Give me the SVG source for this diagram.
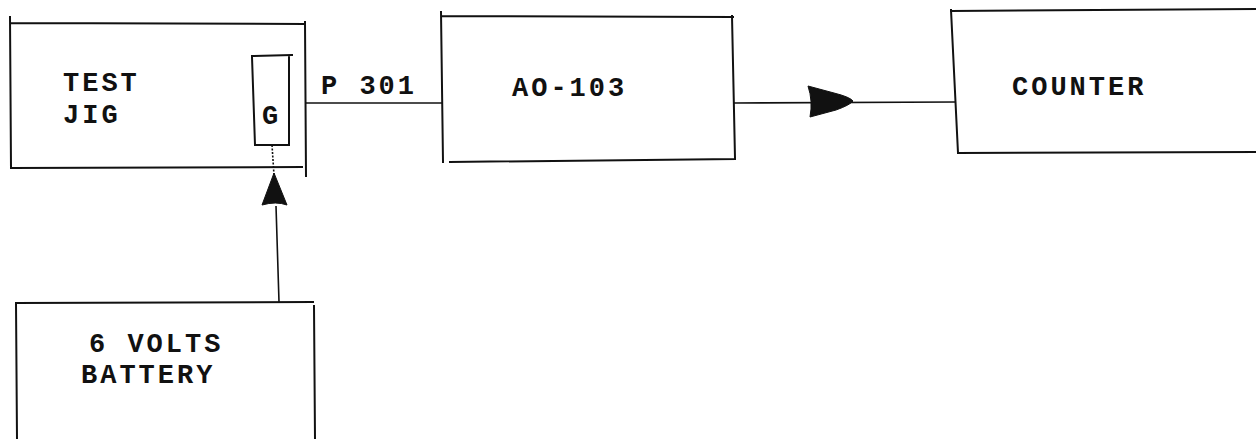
<svg xmlns="http://www.w3.org/2000/svg" width="1256" height="439" viewBox="0 0 1256 439">
  <style>
    .edge { fill: none; stroke: #111; stroke-width: 2; stroke-linecap: square; }
    .wire { fill: none; stroke: #111; stroke-width: 1.6; }
    .lbl { font-family: "Courier New", "Liberation Mono", monospace; font-weight: bold; font-size: 27px; letter-spacing: 3px; fill: #111; }
    .head { fill: #111; stroke: #111; stroke-width: 1; stroke-linejoin: round; }
  </style>
  <rect width="1256" height="439" fill="#fff"/>

  <g id="test-jig">
    <path class="edge" d="M10 17 L11 168 M11 23 L305 24 M305 22 L306 176 M11 168 L302 167"/>
    <text class="lbl" x="63" y="91">TEST</text>
    <text class="lbl" x="63" y="123">JIG</text>
  </g>

  <g id="g-socket">
    <path class="edge" d="M252 57 L255 145 M252 56 L292 55 M289 56 L289 145 M255 145 L289 145"/>
    <text class="lbl" x="262" y="124" letter-spacing="0">G</text>
  </g>

  <g id="ao-103">
    <path class="edge" d="M441 12 L443 162 M442 16 L733 17 M732 16 L735 158 M450 162 L735 159"/>
    <text class="lbl" x="512" y="96">AO-103</text>
  </g>

  <g id="counter">
    <path class="edge" d="M951 10 L958 153 M951 11 L1256 9 M958 153 L1256 152"/>
    <text class="lbl" x="1012" y="95">COUNTER</text>
  </g>

  <g id="battery">
    <path class="edge" d="M16 303 L17 439 M16 303 L313 302 M314 306 L315 439"/>
    <text class="lbl" x="89" y="352">6 VOLTS</text>
    <text class="lbl" x="81" y="383">BATTERY</text>
  </g>

  <g id="connectors">
    <line class="wire" x1="306" y1="103" x2="442" y2="103"/>
    <text class="lbl" x="321" y="94">P 301</text>
    <line class="wire" x1="734" y1="103" x2="955" y2="102"/>
    <path class="head" d="M808 86 L834 93 Q850 97 853 101 Q850 105 836 110 L810 117 Q813 101 808 86 Z"/>
    <line class="wire" x1="272" y1="145" x2="274" y2="175" stroke-dasharray="2 1.5"/>
    <line class="wire" x1="279" y1="302" x2="276" y2="206"/>
    <path class="head" d="M274 173 L287 205 Q276 201 262 205 Z"/>
  </g>
</svg>
